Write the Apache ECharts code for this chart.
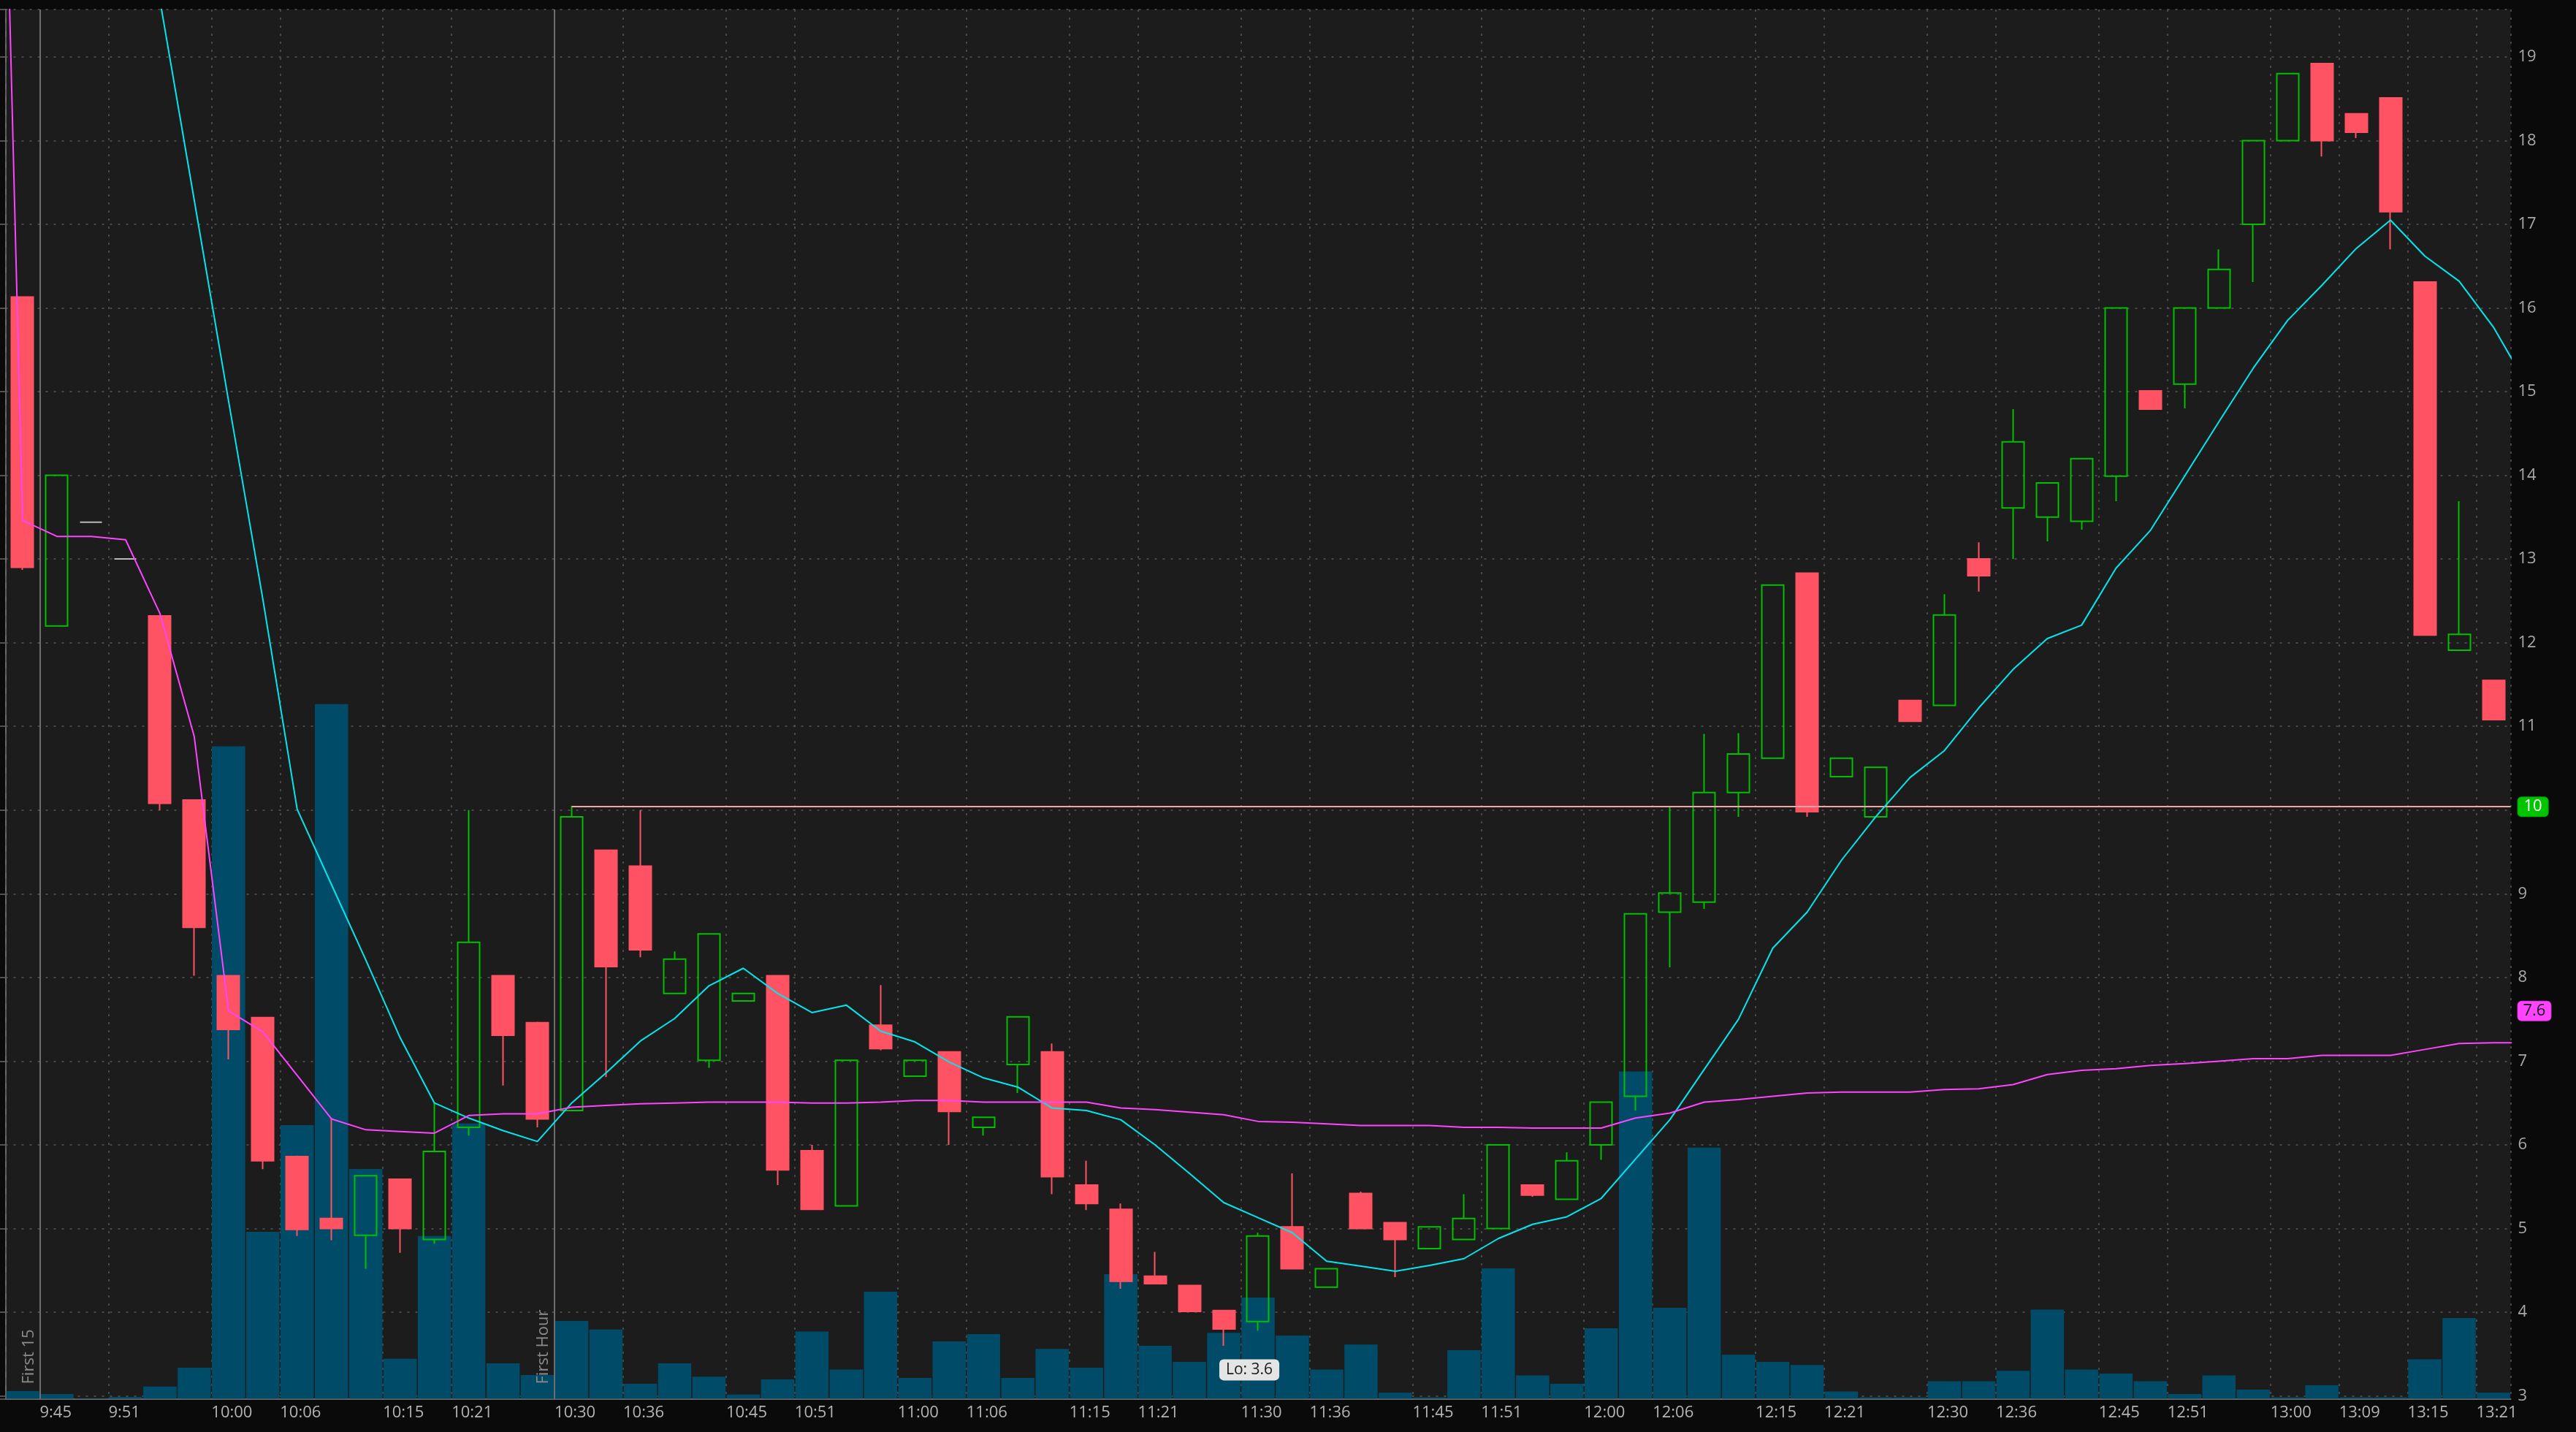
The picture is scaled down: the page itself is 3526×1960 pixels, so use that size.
<!DOCTYPE html>
<html>
<head>
<meta charset="utf-8">
<script src="https://cdn.jsdelivr.net/npm/echarts@6/dist/echarts.min.js"></script>
<style>
html,body{margin:0;padding:0;background:#0a0a0a;}
#chart{width:3526px;height:1960px;}
</style>
</head>
<body>
<div id="chart"></div>
<script>
// ---- data (3-minute bars) ----
const categories = ['9:42','9:45','9:48','9:51','9:54','9:57',
 '10:00','10:03','10:06','10:09','10:12','10:15','10:18','10:21','10:24','10:27','10:30','10:33','10:36','10:39','10:42','10:45','10:48','10:51','10:54','10:57',
 '11:00','11:03','11:06','11:09','11:12','11:15','11:18','11:21','11:24','11:27','11:30','11:33','11:36','11:39','11:42','11:45','11:48','11:51','11:54','11:57',
 '12:00','12:03','12:06','12:09','12:12','12:15','12:18','12:21','12:24','12:27','12:30','12:33','12:36','12:39','12:42','12:45','12:48','12:51','12:54','12:57',
 '13:00','13:03','13:09','13:12','13:15','13:18','13:21'];

const opens = [16.13,12.20,13.44,13.00,12.32,10.12,8.02,7.52,5.86,5.12,
 4.92,5.59,4.87,6.21,8.02,7.46,6.41,9.52,9.33,7.81,
 7.01,7.72,8.02,5.93,5.27,7.43,6.82,7.11,6.21,6.96,
 7.11,5.52,5.23,4.43,4.32,4.02,3.89,5.02,4.30,5.42,
 5.07,4.76,4.87,5.00,5.52,5.35,6.00,6.58,8.78,8.90,
 10.21,10.62,12.83,10.40,9.92,11.31,11.25,13.00,13.61,13.50,
 13.45,13.99,15.01,15.09,16.00,17.00,18.00,18.92,18.32,18.51,
 16.31,11.91,11.55];

const closes = [12.90,14.00,13.44,13.00,10.08,8.60,7.38,5.81,4.99,5.00,
 5.63,5.00,5.92,8.42,7.31,6.31,9.92,8.13,8.33,8.22,
 8.52,7.81,5.70,5.23,7.01,7.15,7.01,6.40,6.33,7.53,
 5.62,5.30,4.37,4.34,4.01,3.80,4.91,4.52,4.52,5.00,
 4.87,5.02,5.12,6.00,5.40,5.81,6.51,8.76,9.01,10.21,
 10.67,12.69,9.98,10.62,10.51,11.06,12.33,12.80,14.40,13.91,
 14.20,16.00,14.79,16.00,16.46,18.00,18.80,18.00,18.10,17.15,
 12.09,12.10,11.08];

const lows = [12.87,12.20,13.44,13.00,10.00,8.02,7.02,5.71,4.91,4.86,
 4.52,4.71,4.82,6.11,6.71,6.21,6.41,6.81,8.24,7.81,
 6.92,7.72,5.52,5.23,5.27,7.13,6.82,6.00,6.11,6.62,
 5.41,5.22,4.28,4.34,4.01,3.60,3.78,4.52,4.30,5.00,
 4.42,4.76,4.87,5.00,5.38,5.35,5.82,6.41,8.12,8.82,
 9.92,10.62,9.92,10.40,9.92,11.06,11.25,12.61,13.00,13.21,
 13.35,13.69,14.79,14.80,16.00,16.31,18.00,17.81,18.03,16.70,
 12.09,11.91,11.08];

const highs = [16.13,14.00,13.44,13.00,12.32,10.12,8.02,7.52,5.87,6.32,
 5.63,5.59,6.50,10.00,8.02,7.47,10.05,9.52,10.00,8.31,
 8.52,7.81,8.02,6.00,7.01,7.91,7.01,7.11,6.33,7.53,
 7.21,5.81,5.30,4.72,4.32,4.02,4.95,5.66,4.52,5.44,
 5.07,5.02,5.41,6.00,5.52,5.91,6.51,8.76,10.04,10.91,
 10.92,12.69,12.83,10.62,10.51,11.31,12.58,13.20,14.79,13.91,
 14.20,16.00,15.01,16.00,16.70,18.00,18.80,18.92,18.32,18.51,
 16.31,13.69,11.55];

// volume, thousands of shares (relative)
const volumes = [1.05,0.65,0.05,0.25,1.68,4.25,89.3,22.85,37.46,95.07,
 31.45,5.47,22.27,37.67,4.85,3.25,10.65,9.47,2.06,4.86,
 3.02,0.57,2.66,9.21,4.0,14.66,2.84,7.86,8.84,2.84,
 6.82,4.25,17.05,7.25,5.05,9.02,13.86,8.65,4.0,7.43,
 0.82,0.21,6.64,17.84,3.21,2.05,9.64,44.79,12.45,34.38,
 6.02,5.05,4.62,1.0,0.2,0.2,2.41,2.41,3.82,12.21,
 4.0,3.45,2.41,0.64,3.21,1.25,0.2,1.86,0.2,0.2,
 5.41,11.05,0.82];

// cyan moving average (values above the chart top at the start)
const emaValues = [null,null,null,22.1,19.68,17.29,14.89,12.52,10.01,9.11,
 8.21,7.28,6.50,6.32,6.17,6.04,6.50,6.86,7.24,7.51,
 7.90,8.11,7.81,7.58,7.67,7.36,7.23,6.99,6.80,6.69,
 6.44,6.41,6.30,6.00,5.66,5.31,5.13,4.95,4.61,4.55,
 4.49,4.56,4.64,4.88,5.05,5.14,5.36,5.83,6.30,6.90,
 7.50,8.35,8.78,9.40,9.92,10.39,10.71,11.22,11.68,12.05,
 12.21,12.89,13.34,13.99,14.64,15.28,15.85,16.27,16.71,17.05,
 16.62,16.32,15.77];
const emaAfterLast = 15.06;

// magenta VWAP line
const vwapValues = [13.46,13.27,13.27,13.23,12.35,10.88,7.60,7.35,6.83,6.31,
 6.18,6.16,6.14,6.35,6.37,6.37,6.45,6.47,6.49,6.50,
 6.51,6.51,6.51,6.50,6.50,6.51,6.53,6.53,6.51,6.51,
 6.51,6.51,6.44,6.42,6.39,6.36,6.28,6.27,6.25,6.23,
 6.23,6.23,6.21,6.21,6.20,6.20,6.20,6.32,6.38,6.51,
 6.54,6.58,6.62,6.63,6.63,6.63,6.66,6.67,6.72,6.84,
 6.89,6.91,6.95,6.97,7.00,7.03,7.03,7.07,7.07,7.07,
 7.14,7.21,7.22];
const vwapBeforeFirst = 29.6;
const vwapAfterLast = 7.22;
const vwapTag = 7.6;

const timeLabels = ['9:45','9:51','10:00','10:06','10:15','10:21','10:30','10:36','10:45','10:51',
 '11:00','11:06','11:15','11:21','11:30','11:36','11:45','11:51','12:00','12:06','12:15','12:21',
 '12:30','12:36','12:45','12:51','13:00','13:09','13:15','13:21'];

const priceLevel = 10.04;
const priceLevelStart = '10:30';
const sessionMarks = [{time: '9:45', text: 'First 15'}, {time: '10:30', text: 'First Hour'}];

const yMin = 2.966, yMax = 19.566;
const volMax = 190.15;

// ---- build ----
const labelSet = new Set(timeLabels);
const n = categories.length;

const candleData = categories.map((c, i) => {
  const item = {value: [opens[i], closes[i], lows[i], highs[i]]};
  if (opens[i] === closes[i] && lows[i] === highs[i]) {
    item.itemStyle = {color: '#b8b8b8', color0: '#b8b8b8', borderColor: '#b8b8b8', borderColor0: '#b8b8b8'};
  }
  return item;
});

const emaData = [];
emaValues.forEach((v, i) => { if (v !== null) emaData.push([i + 0.5, v]); });
emaData.push([n + 0.5, emaAfterLast]);

const vwapData = [[-0.5, vwapBeforeFirst]].concat(vwapValues.map((v, i) => [i + 0.5, v]));
vwapData.push([n + 0.5, vwapAfterLast]);

let loIdx = 0;
lows.forEach((v, i) => { if (v < lows[loIdx]) loIdx = i; });

const gridColor = '#575757';
const dotted = [3, 8];

const markLineData = [];
markLineData.push({xAxis: 0, lineStyle: {color: '#5e5e5e', width: 2, type: [11, 7]}, label: {show: false}});
sessionMarks.forEach(m => {
  markLineData.push({
    xAxis: categories.indexOf(m.time),
    lineStyle: {color: '#6e6e6e', width: 2, type: 'solid'},
    label: {show: true, formatter: m.text, position: 'insideStartTop', distance: [20, 4],
            color: '#8c8c8c', fontSize: 22}
  });
});
markLineData.push([
  {coord: [categories.indexOf(priceLevelStart) + 0.5, priceLevel],
   lineStyle: {color: '#f0a6a6', width: 2, type: 'solid'},
   label: {show: true, position: 'end', distance: 10, formatter: String(Math.round(priceLevel)),
           backgroundColor: '#00c400', borderColor: '#00a000', borderWidth: 1, borderRadius: 5,
           padding: [3, 8, 1, 8], color: '#ffffff', fontSize: 22}},
  {coord: [n, priceLevel]}
]);
markLineData.push({
  yAxis: vwapTag, lineStyle: {color: 'rgba(0,0,0,0)', width: 0.1, type: 'solid'},
  label: {show: true, position: 'end', distance: 10, formatter: String(vwapTag),
          backgroundColor: '#ff44ff', borderColor: '#d030d0', borderWidth: 1, borderRadius: 5,
          padding: [3, 7, 1, 7], color: '#111111', fontSize: 22}
});
markLineData.push({yAxis: yMax, lineStyle: {color: '#4a4a4a', width: 2, type: 'solid'}, label: {show: false}});

const chart = echarts.init(document.getElementById('chart'), null, {renderer: 'canvas'});
chart.setOption({
  animation: false,
  backgroundColor: '#0a0a0a',
  textStyle: {fontFamily: 'Open Sans'},
  grid: {left: 7.5, right: 89.5, top: 13, bottom: 45.5, show: true, backgroundColor: '#1c1c1c', borderWidth: 0},
  xAxis: [
    {
      type: 'category', data: categories, boundaryGap: true,
      axisLine: {show: true, lineStyle: {color: '#6a6a6a', width: 2}},
      axisTick: {show: false}, axisLabel: {show: false},
      splitLine: {show: true, interval: (i, v) => labelSet.has(v), lineStyle: {color: gridColor, width: 1.5, type: dotted}}
    },
    {
      type: 'value', min: 0, max: n, interval: 1, position: 'bottom',
      axisLine: {show: false}, axisTick: {show: false}, splitLine: {show: false},
      axisLabel: {show: true, align: 'left', margin: 8, color: '#b4b4b4', fontSize: 22,
        formatter: v => (Number.isInteger(v) && v < n && labelSet.has(categories[v])) ? categories[v] : ''}
    }
  ],
  yAxis: [
    {
      type: 'value', position: 'right', min: yMin, max: yMax, minInterval: 1, maxInterval: 1, splitNumber: 16,
      axisLine: {show: true, lineStyle: {color: '#6a6a6a', width: 2}},
      axisTick: {show: true, inside: true, length: 8, lineStyle: {color: '#6a6a6a', width: 1.5}},
      axisLabel: {color: '#a8a8a8', fontSize: 22, margin: 10,
        formatter: v => (Math.abs(v - Math.round(v)) < 1e-6) ? String(Math.round(v)) : ''},
      splitLine: {show: true, lineStyle: {color: gridColor, width: 1.5, type: dotted}}
    },
    {type: 'value', min: 0, max: volMax, show: false, splitLine: {show: false}}
  ],
  series: [
    {
      name: 'Volume', type: 'bar', xAxisIndex: 0, yAxisIndex: 1, data: volumes,
      barWidth: 45.5, itemStyle: {color: '#004c68'}, z: 1, silent: true
    },
    {
      name: 'Price', type: 'candlestick', xAxisIndex: 0, yAxisIndex: 0, data: candleData,
      barWidth: 30.5, z: 3,
      itemStyle: {color: 'rgba(0,0,0,0)', color0: '#ff5262', borderColor: '#00c000', borderColor0: '#ff5262', borderWidth: 2},
      markPoint: {
        symbol: 'circle', symbolSize: 1, itemStyle: {color: 'rgba(0,0,0,0)'},
        data: [{coord: [categories[loIdx], lows[loIdx]], value: 'Lo: ' + lows[loIdx].toFixed(1)}],
        label: {show: true, position: 'inside', offset: [35, 33], formatter: '{c}',
          backgroundColor: '#e4e4e4', color: '#1a1a1a', fontSize: 21, padding: [5, 9, 3, 9], borderRadius: 6}
      }
    },
    {
      name: 'EMA', type: 'line', xAxisIndex: 1, yAxisIndex: 0, data: emaData,
      showSymbol: false, clip: true, z: 5, lineStyle: {color: '#00e8ee', width: 2}
    },
    {
      name: 'VWAP', type: 'line', xAxisIndex: 1, yAxisIndex: 0, data: vwapData,
      showSymbol: false, clip: true, z: 6, lineStyle: {color: '#ff44ff', width: 2},
      markLine: {silent: true, symbol: ['none', 'none'], animation: false, data: markLineData}
    }
  ]
});
</script>
</body>
</html>
